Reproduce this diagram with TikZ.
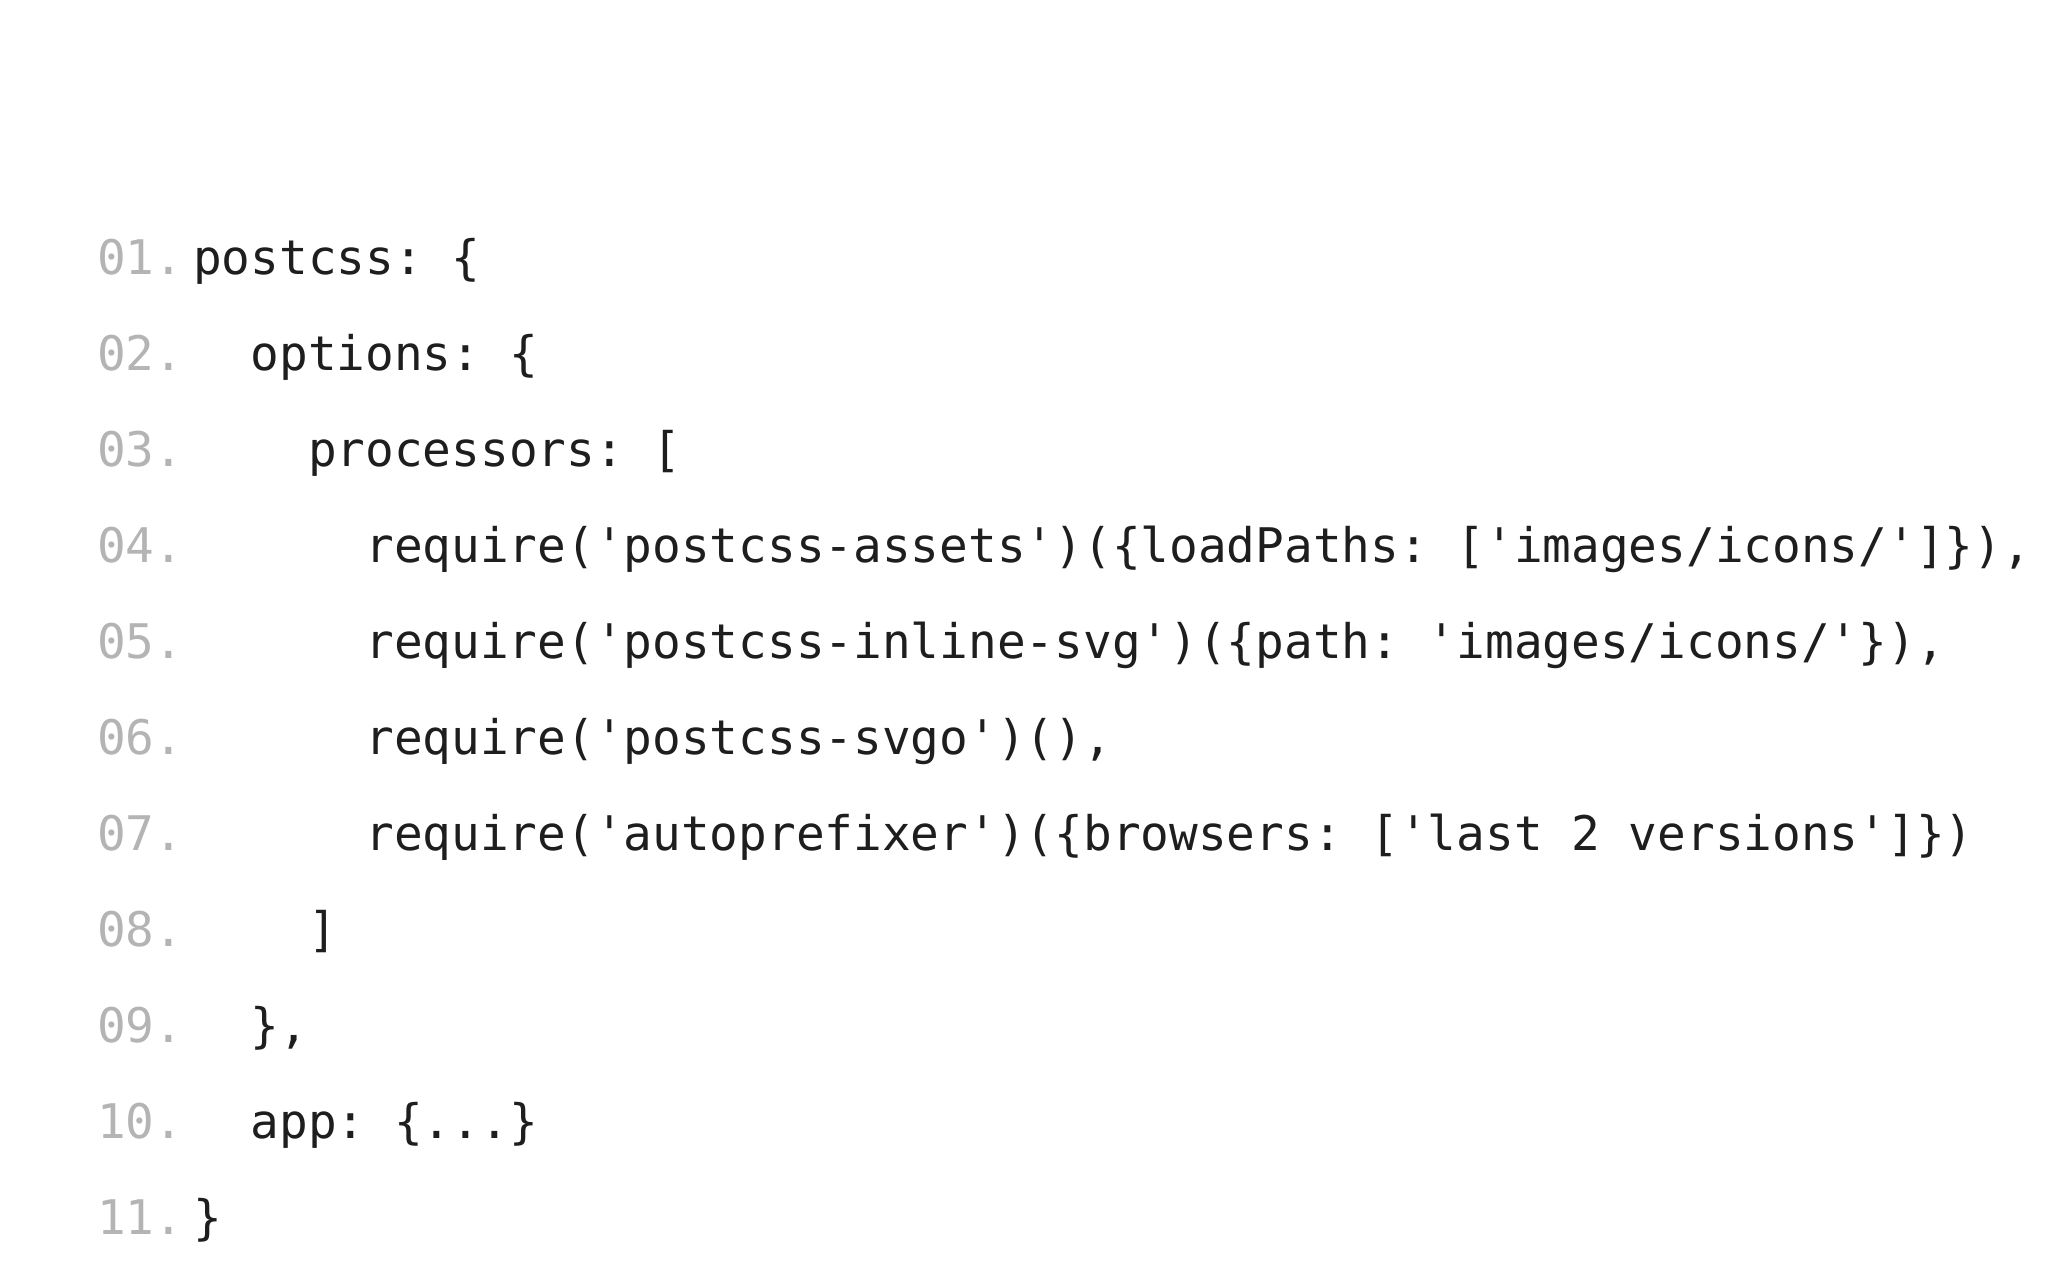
\documentclass[tikz,border=0pt]{standalone}
\usepackage{fontspec}
\setmonofont{DejaVu Sans Mono}
\definecolor{codec}{HTML}{1E1E1E}
\definecolor{numc}{HTML}{B4B4B4}
\begin{document}
\begin{tikzpicture}[x=1pt,y=1pt,
  ln/.style={anchor=base west,inner sep=0pt,font=\ttfamily\fontsize{47.7}{50}\selectfont,text=numc},
  cl/.style={anchor=base west,inner sep=0pt,font=\ttfamily\fontsize{47.7}{50}\selectfont,text=codec}]
\useasboundingbox (0,0) rectangle (2048,1280);
\def\q{\char39}
\foreach \i/\n in {1/01,2/02,3/03,4/04,5/05,6/06,7/07,8/08,9/09,10/10,11/11}{
  \node[ln] (n\i) at (97,{1280-275-(\i-1)*95.9}) {\n.};
}
\newcommand{\cw}{28.7}
\node[cl] (c1) at (193,{1280-275}) {postcss: \{};
\node[cl] (c2) at ({193+2*\cw},{1280-275-95.9}) {options: \{};
\node[cl] (c3) at ({193+4*\cw},{1280-275-2*95.9}) {processors: [};
\node[cl] (c4) at ({193+6*\cw},{1280-275-3*95.9}) {require(\q postcss-assets\q)(\{loadPaths: [\q images/icons/\q]\}),};
\node[cl] (c5) at ({193+6*\cw},{1280-275-4*95.9}) {require(\q postcss-inline-svg\q)(\{path: \q images/icons/\q\}),};
\node[cl] (c6) at ({193+6*\cw},{1280-275-5*95.9}) {require(\q postcss-svgo\q)(),};
\node[cl] (c7) at ({193+6*\cw},{1280-275-6*95.9}) {require(\q autoprefixer\q)(\{browsers: [\q last 2 versions\q]\})};
\node[cl] (c8) at ({193+4*\cw},{1280-275-7*95.9}) {]};
\node[cl] (c9) at ({193+2*\cw},{1280-275-8*95.9}) {\},};
\node[cl] (c10) at ({193+2*\cw},{1280-275-9*95.9}) {app: \{...\}};
\node[cl] (c11) at (193,{1280-275-10*95.9}) {\}};
\end{tikzpicture}
\end{document}
